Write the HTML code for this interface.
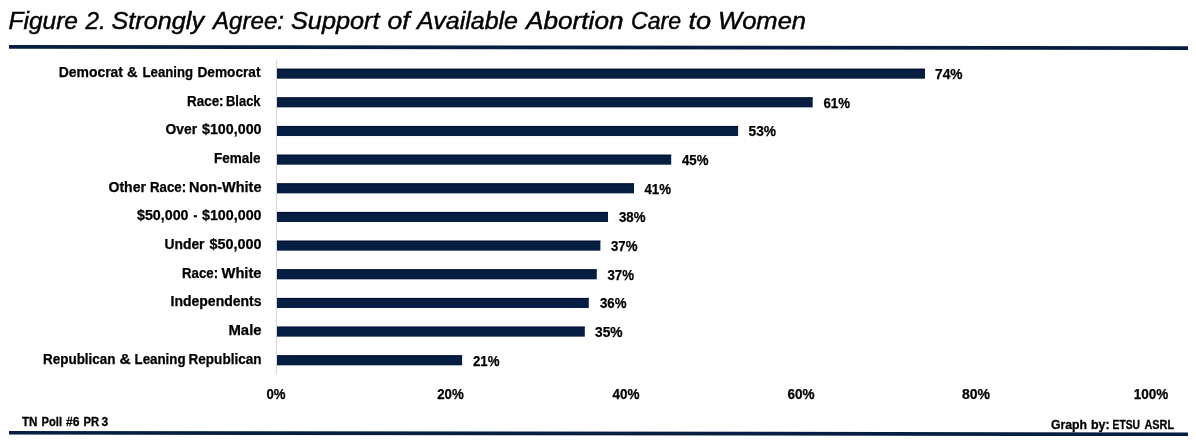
<!DOCTYPE html>
<html lang="en">
<head>
<meta charset="utf-8">
<title>Figure 2. Strongly Agree: Support of Available Abortion Care to Women</title>
<style>
html,body{margin:0;padding:0;background:#fff;}
body{width:1196px;height:442px;overflow:hidden;}
svg{display:block;}
text{font-family:"Liberation Sans",sans-serif;fill:#000;}
.t{font-style:italic;font-weight:normal;stroke:#000;stroke-width:0.45px;}
.b{font-weight:bold;stroke:#000;stroke-width:0.25px;}
.f{font-weight:bold;stroke:#000;stroke-width:0.3px;}
</style>
</head>
<body>
<svg width="1196" height="442" viewBox="0 0 1196 442">
<rect x="0" y="0" width="1196" height="442" fill="#ffffff"/>
<polygon points="9,45.0 1188,46.3 1188,50.0 9,48.8" fill="#061e42"/>
<polygon points="9,430.9 1188,432.4 1188,436.1 9,434.6" fill="#061e42"/>
<rect x="275.9" y="59.6" width="1.1" height="314.5" fill="#d9d9d9"/>
<rect x="277" y="68.60" width="648.0" height="10.1" fill="#061e42"/>
<rect x="277" y="68.90" width="648.0" height="0.9" fill="#020c32"/>
<rect x="277" y="97.26" width="535.7" height="10.1" fill="#061e42"/>
<rect x="277" y="97.56" width="535.7" height="0.9" fill="#020c32"/>
<rect x="277" y="125.92" width="461.1" height="10.1" fill="#061e42"/>
<rect x="277" y="126.22" width="461.1" height="0.9" fill="#020c32"/>
<rect x="277" y="154.58" width="394.2" height="10.1" fill="#061e42"/>
<rect x="277" y="154.88" width="394.2" height="0.9" fill="#020c32"/>
<rect x="277" y="183.24" width="357.0" height="10.1" fill="#061e42"/>
<rect x="277" y="183.54" width="357.0" height="0.9" fill="#020c32"/>
<rect x="277" y="211.90" width="331.0" height="10.1" fill="#061e42"/>
<rect x="277" y="212.20" width="331.0" height="0.9" fill="#020c32"/>
<rect x="277" y="240.56" width="323.4" height="10.1" fill="#061e42"/>
<rect x="277" y="240.86" width="323.4" height="0.9" fill="#020c32"/>
<rect x="277" y="269.22" width="319.8" height="10.1" fill="#061e42"/>
<rect x="277" y="269.52" width="319.8" height="0.9" fill="#020c32"/>
<rect x="277" y="297.88" width="311.8" height="10.1" fill="#061e42"/>
<rect x="277" y="298.18" width="311.8" height="0.9" fill="#020c32"/>
<rect x="277" y="326.54" width="307.8" height="10.1" fill="#061e42"/>
<rect x="277" y="326.84" width="307.8" height="0.9" fill="#020c32"/>
<rect x="277" y="355.20" width="185.1" height="10.1" fill="#061e42"/>
<rect x="277" y="355.50" width="185.1" height="0.9" fill="#020c32"/>
<text id="t0" class="t" x="8.50" y="28.70" font-size="24.2" textLength="69.51" lengthAdjust="spacingAndGlyphs">Figure</text>
<text id="t1" class="t" x="85.50" y="28.70" font-size="24.2" textLength="20.27" lengthAdjust="spacingAndGlyphs">2.</text>
<text id="t2" class="t" x="111.50" y="28.70" font-size="24.2" textLength="92.50" lengthAdjust="spacingAndGlyphs">Strongly</text>
<text id="t3" class="t" x="213.00" y="28.70" font-size="24.2" textLength="71.01" lengthAdjust="spacingAndGlyphs">Agree:</text>
<text id="t4" class="t" x="291.00" y="28.70" font-size="24.2" textLength="88.50" lengthAdjust="spacingAndGlyphs">Support</text>
<text id="t5" class="t" x="387.50" y="28.70" font-size="24.2" textLength="22.17" lengthAdjust="spacingAndGlyphs">of</text>
<text id="t6" class="t" x="417.00" y="28.70" font-size="24.2" textLength="101.01" lengthAdjust="spacingAndGlyphs">Available</text>
<text id="t7" class="t" x="526.00" y="28.70" font-size="24.2" textLength="97.50" lengthAdjust="spacingAndGlyphs">Abortion</text>
<text id="t8" class="t" x="631.00" y="28.70" font-size="24.2" textLength="50.06" lengthAdjust="spacingAndGlyphs">Care</text>
<text id="t9" class="t" x="688.50" y="28.70" font-size="24.2" textLength="22.65" lengthAdjust="spacingAndGlyphs">to</text>
<text id="t10" class="t" x="718.00" y="28.70" font-size="24.2" textLength="88.08" lengthAdjust="spacingAndGlyphs">Women</text>
<text id="t11" class="b" x="58.75" y="77.10" font-size="13.9" textLength="64.26" lengthAdjust="spacingAndGlyphs">Democrat</text>
<text id="t12" class="b" x="127.00" y="77.10" font-size="13.9" textLength="10.62" lengthAdjust="spacingAndGlyphs">&amp;</text>
<text id="t13" class="b" x="142.50" y="77.10" font-size="13.9" textLength="50.56" lengthAdjust="spacingAndGlyphs">Leaning</text>
<text id="t14" class="b" x="197.50" y="77.10" font-size="13.9" textLength="63.02" lengthAdjust="spacingAndGlyphs">Democrat</text>
<text id="t15" class="b" x="187.00" y="105.76" font-size="13.9" textLength="36.59" lengthAdjust="spacingAndGlyphs">Race:</text>
<text id="t16" class="b" x="226.00" y="105.76" font-size="13.9" textLength="34.53" lengthAdjust="spacingAndGlyphs">Black</text>
<text id="t17" class="b" x="165.50" y="134.42" font-size="13.9" textLength="31.55" lengthAdjust="spacingAndGlyphs">Over</text>
<text id="t18" class="b" x="202.00" y="134.42" font-size="13.9" textLength="59.51" lengthAdjust="spacingAndGlyphs">$100,000</text>
<text id="t19" class="b" x="214.00" y="163.08" font-size="13.9" textLength="46.54" lengthAdjust="spacingAndGlyphs">Female</text>
<text id="t20" class="b" x="108.50" y="191.74" font-size="13.9" textLength="37.51" lengthAdjust="spacingAndGlyphs">Other</text>
<text id="t21" class="b" x="150.00" y="191.74" font-size="13.9" textLength="36.11" lengthAdjust="spacingAndGlyphs">Race:</text>
<text id="t22" class="b" x="189.00" y="191.74" font-size="13.9" textLength="72.53" lengthAdjust="spacingAndGlyphs">Non-White</text>
<text id="t23" class="b" x="137.00" y="220.40" font-size="13.9" textLength="51.53" lengthAdjust="spacingAndGlyphs">$50,000</text>
<text id="t24" class="b" x="193.50" y="220.40" font-size="13.9" textLength="3.85" lengthAdjust="spacingAndGlyphs">-</text>
<text id="t25" class="b" x="202.00" y="220.40" font-size="13.9" textLength="59.51" lengthAdjust="spacingAndGlyphs">$100,000</text>
<text id="t26" class="b" x="164.50" y="249.06" font-size="13.9" textLength="40.02" lengthAdjust="spacingAndGlyphs">Under</text>
<text id="t27" class="b" x="209.50" y="249.06" font-size="13.9" textLength="52.04" lengthAdjust="spacingAndGlyphs">$50,000</text>
<text id="t28" class="b" x="182.00" y="277.72" font-size="13.9" textLength="36.05" lengthAdjust="spacingAndGlyphs">Race:</text>
<text id="t29" class="b" x="221.50" y="277.72" font-size="13.9" textLength="40.04" lengthAdjust="spacingAndGlyphs">White</text>
<text id="t30" class="b" x="170.50" y="306.38" font-size="13.9" textLength="91.03" lengthAdjust="spacingAndGlyphs">Independents</text>
<text id="t31" class="b" x="228.50" y="335.04" font-size="13.9" textLength="33.03" lengthAdjust="spacingAndGlyphs">Male</text>
<text id="t32" class="b" x="43.00" y="363.70" font-size="13.9" textLength="72.51" lengthAdjust="spacingAndGlyphs">Republican</text>
<text id="t33" class="b" x="119.50" y="363.70" font-size="13.9" textLength="11.22" lengthAdjust="spacingAndGlyphs">&amp;</text>
<text id="t34" class="b" x="134.50" y="363.70" font-size="13.9" textLength="51.07" lengthAdjust="spacingAndGlyphs">Leaning</text>
<text id="t35" class="b" x="188.50" y="363.70" font-size="13.9" textLength="73.05" lengthAdjust="spacingAndGlyphs">Republican</text>
<text id="t36" class="b" x="935.00" y="79.00" font-size="13.9" textLength="27.53" lengthAdjust="spacingAndGlyphs">74%</text>
<text id="t37" class="b" x="823.50" y="107.66" font-size="13.9" textLength="26.55" lengthAdjust="spacingAndGlyphs">61%</text>
<text id="t38" class="b" x="748.50" y="136.32" font-size="13.9" textLength="27.53" lengthAdjust="spacingAndGlyphs">53%</text>
<text id="t39" class="b" x="682.00" y="164.98" font-size="13.9" textLength="26.52" lengthAdjust="spacingAndGlyphs">45%</text>
<text id="t40" class="b" x="644.50" y="193.64" font-size="13.9" textLength="26.55" lengthAdjust="spacingAndGlyphs">41%</text>
<text id="t41" class="b" x="619.00" y="222.30" font-size="13.9" textLength="26.55" lengthAdjust="spacingAndGlyphs">38%</text>
<text id="t42" class="b" x="611.00" y="250.96" font-size="13.9" textLength="26.52" lengthAdjust="spacingAndGlyphs">37%</text>
<text id="t43" class="b" x="607.50" y="279.62" font-size="13.9" textLength="26.52" lengthAdjust="spacingAndGlyphs">37%</text>
<text id="t44" class="b" x="600.00" y="308.28" font-size="13.9" textLength="26.52" lengthAdjust="spacingAndGlyphs">36%</text>
<text id="t45" class="b" x="595.00" y="336.94" font-size="13.9" textLength="27.57" lengthAdjust="spacingAndGlyphs">35%</text>
<text id="t46" class="b" x="473.00" y="365.60" font-size="13.9" textLength="26.52" lengthAdjust="spacingAndGlyphs">21%</text>
<text id="t47" class="b" x="266.50" y="399.20" font-size="13.9" textLength="19.03" lengthAdjust="spacingAndGlyphs">0%</text>
<text id="t48" class="b" x="437.25" y="399.20" font-size="13.9" textLength="26.52" lengthAdjust="spacingAndGlyphs">20%</text>
<text id="t49" class="b" x="612.50" y="399.20" font-size="13.9" textLength="27.02" lengthAdjust="spacingAndGlyphs">40%</text>
<text id="t50" class="b" x="787.50" y="399.20" font-size="13.9" textLength="27.07" lengthAdjust="spacingAndGlyphs">60%</text>
<text id="t51" class="b" x="962.00" y="399.20" font-size="13.9" textLength="28.01" lengthAdjust="spacingAndGlyphs">80%</text>
<text id="t52" class="b" x="1133.75" y="399.20" font-size="13.9" textLength="34.53" lengthAdjust="spacingAndGlyphs">100%</text>
<text id="t53" class="f" x="22.00" y="426.10" font-size="12.4" textLength="15.53" lengthAdjust="spacingAndGlyphs">TN</text>
<text id="t54" class="f" x="41.50" y="426.10" font-size="12.4" textLength="20.51" lengthAdjust="spacingAndGlyphs">Poll</text>
<text id="t55" class="f" x="66.00" y="426.10" font-size="12.4" textLength="13.54" lengthAdjust="spacingAndGlyphs">#6</text>
<text id="t56" class="f" x="83.50" y="426.10" font-size="12.4" textLength="15.57" lengthAdjust="spacingAndGlyphs">PR</text>
<text id="t57" class="f" x="101.50" y="426.10" font-size="12.4" textLength="6.70" lengthAdjust="spacingAndGlyphs">3</text>
<text id="t58" class="f" x="1051.00" y="428.60" font-size="12.4" textLength="36.04" lengthAdjust="spacingAndGlyphs">Graph</text>
<text id="t59" class="f" x="1091.00" y="428.60" font-size="12.4" textLength="18.66" lengthAdjust="spacingAndGlyphs">by:</text>
<text id="t60" class="f" x="1112.50" y="428.60" font-size="12.4" textLength="27.52" lengthAdjust="spacingAndGlyphs">ETSU</text>
<text id="t61" class="f" x="1144.50" y="428.60" font-size="12.4" textLength="29.56" lengthAdjust="spacingAndGlyphs">ASRL</text>
</svg>
</body>
</html>
